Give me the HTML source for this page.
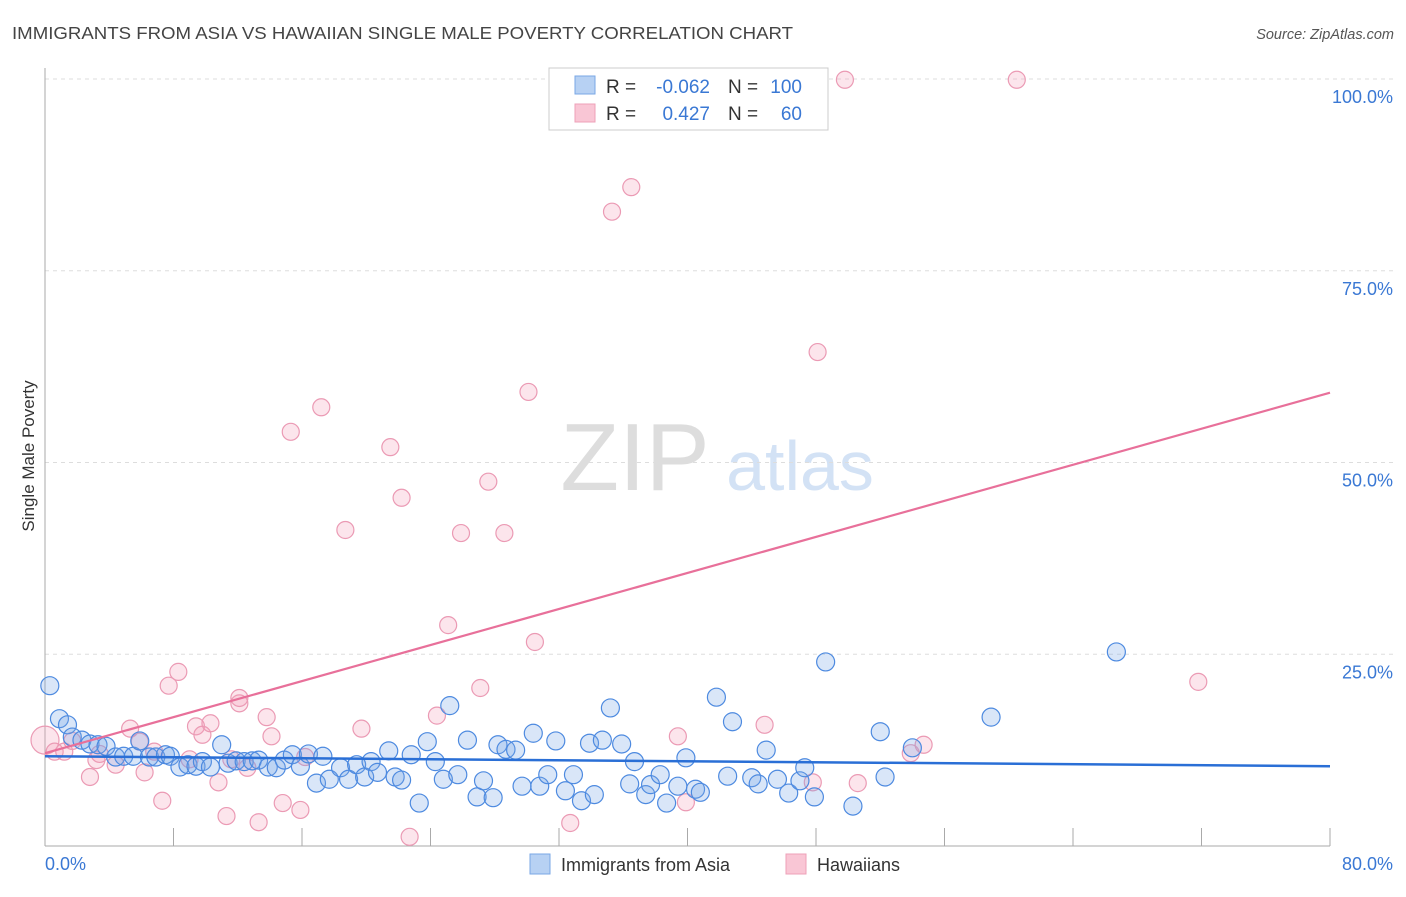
<!DOCTYPE html>
<html><head><meta charset="utf-8"><style>
body{margin:0;background:#fff;font-family:"Liberation Sans",sans-serif;}
svg text{font-family:"Liberation Sans",sans-serif;}
</style></head><body>
<svg id="chart" width="1406" height="892" xmlns="http://www.w3.org/2000/svg">
<text x="12" y="39" font-size="17.5" fill="#444" textLength="781" lengthAdjust="spacingAndGlyphs">IMMIGRANTS FROM ASIA VS HAWAIIAN SINGLE MALE POVERTY CORRELATION CHART</text>
<text x="1394" y="39" font-size="14.5" fill="#555" font-style="italic" text-anchor="end">Source: ZipAtlas.com</text>
<g><text x="635" y="490" font-size="96" fill="#ddd" font-family="Liberation Serif" text-anchor="middle">ZIP</text><text x="800" y="490" font-size="70" fill="#d3e2f5" text-anchor="middle">atlas</text></g>
<g id="grid"></g>
<g id="axes"></g>
<g id="pts"></g>
<g id="trends"></g>
<text transform="translate(34,456) rotate(-90)" font-size="17" fill="#333" text-anchor="middle">Single Male Poverty</text>
<g>
<rect x="549" y="68" width="279" height="62" fill="#fff" stroke="#ccc"/>
<rect x="575" y="76" width="20" height="18" fill="#b7d1f3" stroke="#7aa7e6"/>
<rect x="575" y="104" width="20" height="18" fill="#f9c6d5" stroke="#eea0b8"/>
<text x="606" y="93" font-size="19" fill="#333">R =</text>
<text x="710" y="93" font-size="19" fill="#3a78d4" text-anchor="end">-0.062</text>
<text x="728" y="93" font-size="19" fill="#333">N =</text>
<text x="802" y="93" font-size="19" fill="#3a78d4" text-anchor="end">100</text>
<text x="606" y="120" font-size="19" fill="#333">R =</text>
<text x="710" y="120" font-size="19" fill="#3a78d4" text-anchor="end">0.427</text>
<text x="728" y="120" font-size="19" fill="#333">N =</text>
<text x="802" y="120" font-size="19" fill="#3a78d4" text-anchor="end">60</text>
</g>
<g>
<rect x="530" y="854" width="20" height="20" fill="#b7d1f3" stroke="#7aa7e6"/>
<text x="561" y="871" font-size="18" fill="#333">Immigrants from Asia</text>
<rect x="786" y="854" width="20" height="20" fill="#f9c6d5" stroke="#eea0b8"/>
<text x="817" y="871" font-size="18" fill="#333">Hawaiians</text>
</g>
</svg>
<script>
const blueX=[0.3,0.9,1.4,1.7,2.3,2.8,3.3,3.8,4.4,4.9,5.5,5.9,6.5,6.9,7.5,7.8,8.4,8.9,9.4,9.8,10.3,11.0,11.4,11.9,12.4,12.9,13.3,13.9,14.4,14.9,15.4,15.9,16.4,16.9,17.3,17.7,18.4,18.9,19.4,19.9,20.3,20.7,21.4,21.8,22.2,22.8,23.3,23.8,24.3,24.8,25.2,25.7,26.3,26.9,27.3,27.9,28.2,28.7,29.3,29.7,30.4,30.8,31.3,31.8,32.4,32.9,33.4,33.9,34.2,34.7,35.2,35.9,36.4,36.7,37.4,37.7,38.3,38.7,39.4,39.9,40.5,40.8,41.8,42.5,42.8,44.0,44.4,44.9,45.6,46.3,47.0,47.3,47.9,48.6,50.3,52.0,52.3,54.0,58.9,66.7];
const blueY=[20.9,16.6,15.8,14.2,13.8,13.3,13.2,13.0,11.6,11.7,11.7,13.7,11.6,11.6,11.9,11.7,10.3,10.6,10.4,11.0,10.3,13.2,10.8,11.1,11.0,11.1,11.2,10.3,10.2,11.2,11.9,10.4,12.0,8.2,11.7,8.7,10.2,8.7,10.6,9.0,11.0,9.6,12.4,9.0,8.6,11.9,5.6,13.6,11.0,8.7,18.3,9.3,13.8,6.4,8.5,6.3,13.2,12.6,12.5,7.8,14.7,7.8,9.3,13.7,7.2,9.3,5.9,13.4,6.7,13.8,18.0,13.3,8.1,11.0,6.7,8.0,9.3,5.6,7.8,11.5,7.4,7.0,19.4,9.1,16.2,8.9,8.1,12.5,8.7,6.9,8.5,10.2,6.4,24.0,5.2,14.9,9.0,12.8,16.8,25.3];
const pinkX=[0,0.6,1.2,1.7,2.8,3.2,3.4,4.4,5.3,5.9,6.2,6.8,7.3,7.7,8.3,9.0,9.4,9.8,10.3,10.8,11.3,11.6,12.1,12.1,12.6,13.3,13.8,14.1,14.8,15.3,15.9,16.2,17.2,18.7,19.7,21.5,22.2,22.7,24.4,25.1,25.9,27.1,27.6,28.6,30.1,30.5,32.7,35.3,36.5,39.4,39.9,44.8,47.8,48.1,49.8,50.6,53.9,54.7,60.5,71.8];
const pinkY=[13.8,12.3,12.3,13.7,9.0,11.2,12.0,10.6,15.3,13.6,9.6,12.3,5.9,20.9,22.7,11.3,15.6,14.5,16.0,8.3,3.9,11.3,18.6,19.3,10.2,3.1,16.8,14.3,5.6,54.0,4.7,11.6,57.2,41.2,15.3,52.0,45.4,1.2,17.0,28.8,40.8,20.6,47.5,40.8,59.2,26.6,3.0,82.7,85.9,14.3,5.7,15.8,8.3,64.4,99.9,8.2,12.1,13.2,99.9,21.4];
const blueTrend=[11.7,10.4];
const pinkTrend=[12.1,59.1];
const yTicks=[25,50,75,100];
const xTicks=[0,8,16,24,32,40,48,56,64,72,80];
const NS="http://www.w3.org/2000/svg";
const X0=45,X1=1330,Y0=846,Y100=79;
const sx=v=>X0+(v/80)*(X1-X0);
const sy=v=>Y0-(v/100)*(Y0-Y100);
function mk(tag,attrs,parent){const e=document.createElementNS(NS,tag);for(const k in attrs)e.setAttribute(k,attrs[k]);document.getElementById(parent).appendChild(e);return e;}
yTicks.forEach(t=>{
  const l=mk('line',{x1:X0,x2:1394,y1:sy(t),y2:sy(t),stroke:'#ddd','stroke-dasharray':'4,4'},'grid');
  
  
  const tx=mk('text',{x:1393,y:sy(t)+24,'font-size':18,fill:'#3a78d4','text-anchor':'end'},'grid');
  tx.textContent=t.toFixed(1)+'%';
  
  
});
mk('line',{x1:X0,x2:X0,y1:68,y2:Y0,stroke:'#aaa'},'axes');
mk('line',{x1:X0,x2:X1,y1:Y0,y2:Y0,stroke:'#aaa'},'axes');
xTicks.forEach(t=>{
  const l=mk('line',{x1:sx(t),x2:sx(t),y1:Y0,y2:828,stroke:'#aaa'},'axes');
  
  
});
let t0=mk('text',{x:45,y:870,'font-size':18,fill:'#3a78d4'},'axes');t0.textContent='0.0%';


let t1=mk('text',{x:1393,y:870,'font-size':18,fill:'#3a78d4','text-anchor':'end'},'axes');t1.textContent='80.0%';


pinkX.forEach((x,i)=>{
  const c=mk('circle',{cx:sx(x),cy:sy(pinkY[i]),r:i===0?14:8.5,fill:'rgba(244,160,188,0.28)',stroke:'#eb9ab4','stroke-width':1.2},'pts');
  
  
});
blueX.forEach((x,i)=>{
  const c=mk('circle',{cx:sx(x),cy:sy(blueY[i]),r:9,fill:'rgba(120,165,230,0.28)',stroke:'#4d8ae0','stroke-width':1.2},'pts');
  
  
});
const lb=mk('line',{x1:sx(0),x2:sx(80),y1:sy(blueTrend[0]),y2:sy(blueTrend[1]),stroke:'#2a6fd6','stroke-width':2.5},'trends');


const lp=mk('line',{x1:sx(0),x2:sx(80),y1:sy(pinkTrend[0]),y2:sy(pinkTrend[1]),stroke:'#e8709a','stroke-width':2.2},'trends');


</script>
</body></html>
